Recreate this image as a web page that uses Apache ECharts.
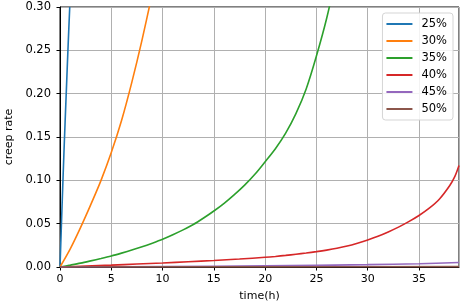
<!DOCTYPE html>
<html>
<head>
<meta charset="utf-8">
<script src="https://cdn.jsdelivr.net/npm/echarts@6/dist/echarts.min.js"></script>
<style>html,body{margin:0;padding:0;background:#fff;}#c{width:463px;height:307px;}</style>
</head>
<body>
<div id="c"></div>
<script>
// Data
const seriesNames = ['25%', '30%', '35%', '40%', '45%', '50%'];
const xTicks = [0, 5, 10, 15, 20, 25, 30, 35];
const yTicks = [0.00, 0.05, 0.10, 0.15, 0.20, 0.25, 0.30];

const t25 = [0, 0.2, 0.4, 0.6, 0.8, 0.95];
const v25 = [0, 0.07, 0.137, 0.198, 0.258, 0.30];

const t30 = [0, 1, 2, 3, 4, 5, 6, 7, 8, 9];
const v30 = [0, 0.021, 0.0455, 0.072, 0.10, 0.132, 0.169, 0.213, 0.262, 0.316];

const t35 = [0, 1, 2, 3, 4, 5, 6, 7, 8, 9, 10, 11, 12, 13, 14, 15, 16, 17, 18, 19, 20, 21, 22, 23, 24, 25, 26, 27];
const v35 = [0, 0.0022, 0.0045, 0.0071, 0.0098, 0.0127, 0.016, 0.0195, 0.0233, 0.0275, 0.032, 0.0372, 0.0428, 0.049, 0.0565, 0.0646, 0.0735, 0.0835, 0.0945, 0.107, 0.1215, 0.1365, 0.1545, 0.177, 0.2055, 0.2435, 0.287, 0.34];

const t40 = [0, 2.5, 5, 7.5, 10, 12.5, 15, 17.5, 20, 21, 22, 23, 24, 25, 26, 27, 28, 29, 30, 31, 32, 33, 34, 35, 36, 37, 38, 38.5, 38.9];
const v40 = [0, 0.0011, 0.0022, 0.0034, 0.0046, 0.006, 0.0075, 0.0092, 0.0112, 0.0122, 0.0134, 0.0147, 0.0161, 0.0177, 0.0195, 0.0216, 0.0242, 0.0275, 0.0312, 0.0355, 0.0405, 0.046, 0.0523, 0.0594, 0.0678, 0.0785, 0.094, 0.1045, 0.117];

const t45 = [0, 10, 20, 30, 35, 38.9];
const v45 = [0, 0.0006, 0.0013, 0.0027, 0.0038, 0.0052];

const t50 = [0, 20, 38.9];
const v50 = [0, 0.0002, 0.0004];

const colors = ['#1f77b4', '#ff7f0e', '#2ca02c', '#d62728', '#9467bd', '#8c564b'];
const allT = [t25, t30, t35, t40, t45, t50];
const allV = [v25, v30, v35, v40, v45, v50];

const FONT = 'DejaVu Sans';
const chart = echarts.init(document.getElementById('c'), null, {renderer: 'canvas'});
chart.setOption({
  animation: false,
  backgroundColor: '#fff',
  color: colors,
  grid: {left: 60, right: 4, top: 7, bottom: 40, show: true, borderColor: '#000', borderWidth: 1,
    backgroundColor: 'transparent', containLabel: false, outerBoundsMode: 'none'},
  legend: {
    orient: 'vertical', right: 10, top: 13,
    icon: 'rect', itemWidth: 26, itemHeight: 2, itemGap: 3,
    padding: [4, 6, 4, 4],
    borderColor: '#d5d5d5', borderWidth: 1, borderRadius: 3, backgroundColor: 'rgba(255,255,255,0.85)',
    textStyle: {fontFamily: FONT, fontSize: 11.5, color: '#000', lineHeight: 14, padding: [0, 0, 0, 4]},
    data: seriesNames
  },
  xAxis: {
    type: 'value', min: 0, max: 38.9, interval: 5,
    name: 'time(h)', nameLocation: 'middle', nameGap: 24,
    nameTextStyle: {fontFamily: FONT, fontSize: 11, color: '#000'},
    axisLine: {show: true, onZero: false, lineStyle: {color: '#000', width: 1}},
    axisTick: {show: true, length: 3.5, lineStyle: {color: '#000'}},
    axisLabel: {fontFamily: FONT, fontSize: 11, color: '#000', margin: 7, showMaxLabel: false,
      formatter: v => (xTicks.indexOf(v) >= 0 ? String(v) : '')},
    splitLine: {show: true, lineStyle: {color: '#b0b0b0', width: 1}}
  },
  yAxis: {
    type: 'value', min: 0, max: 0.3, interval: 0.05,
    name: 'creep rate', nameLocation: 'middle', nameGap: 40,
    nameTextStyle: {fontFamily: FONT, fontSize: 11, color: '#000'},
    axisLine: {show: true, onZero: false, lineStyle: {color: '#000', width: 1}},
    axisTick: {show: true, length: 3.5, lineStyle: {color: '#000'}},
    axisLabel: {fontFamily: FONT, fontSize: 11.5, color: '#000', margin: 9,
      formatter: v => v.toFixed(2)},
    splitLine: {show: true, lineStyle: {color: '#b0b0b0', width: 1}}
  },
  series: seriesNames.map((n, i) => ({
    name: n, type: 'line', showSymbol: false, symbol: 'none',
    smooth: 0.3, clip: true,
    lineStyle: {width: 1.6, color: colors[i]},
    itemStyle: {color: colors[i]},
    data: allT[i].map((t, k) => [t, allV[i][k]])
  }))
});
</script>
</body>
</html>
